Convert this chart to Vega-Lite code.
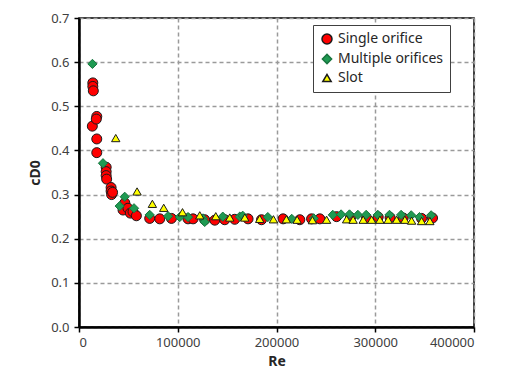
{
  "$schema": "https://vega.github.io/schema/vega-lite/v6.json",
  "width": 395,
  "height": 309,
  "autosize": {"type": "none"},
  "padding": {"left": 79, "top": 18, "right": 34, "bottom": 49},
  "background": "white",
  "config": {
    "font": "Noto Sans",
    "view": {"stroke": "#000000", "strokeWidth": 1.5},
    "axis": {
      "labelFont": "Noto Sans",
      "labelFontSize": 13,
      "labelColor": "#404040",
      "titleFont": "Noto Sans",
      "titleFontSize": 14,
      "titleFontWeight": "bold",
      "titleColor": "#262626",
      "domainColor": "#000000",
      "domainWidth": 2.5,
      "tickColor": "#000000",
      "tickWidth": 1.5,
      "tickSize": 5,
      "gridColor": "#9a9a9a",
      "gridDash": [4, 3],
      "gridWidth": 1.5
    }
  },
  "data": {
    "values": [
      {"Re": 14000, "cd": 0.553, "series": "Single orifice"},
      {"Re": 14000, "cd": 0.545, "series": "Single orifice"},
      {"Re": 14500, "cd": 0.535, "series": "Single orifice"},
      {"Re": 13500, "cd": 0.455, "series": "Single orifice"},
      {"Re": 18000, "cd": 0.477, "series": "Single orifice"},
      {"Re": 17500, "cd": 0.471, "series": "Single orifice"},
      {"Re": 18000, "cd": 0.426, "series": "Single orifice"},
      {"Re": 18000, "cd": 0.395, "series": "Single orifice"},
      {"Re": 27500, "cd": 0.362, "series": "Single orifice"},
      {"Re": 27500, "cd": 0.352, "series": "Single orifice"},
      {"Re": 27500, "cd": 0.343, "series": "Single orifice"},
      {"Re": 28000, "cd": 0.335, "series": "Single orifice"},
      {"Re": 32500, "cd": 0.316, "series": "Single orifice"},
      {"Re": 32500, "cd": 0.308, "series": "Single orifice"},
      {"Re": 33000, "cd": 0.300, "series": "Single orifice"},
      {"Re": 34000, "cd": 0.305, "series": "Single orifice"},
      {"Re": 44600, "cd": 0.265, "series": "Single orifice"},
      {"Re": 46400, "cd": 0.281, "series": "Single orifice"},
      {"Re": 49600, "cd": 0.269, "series": "Single orifice"},
      {"Re": 52000, "cd": 0.258, "series": "Single orifice"},
      {"Re": 54700, "cd": 0.261, "series": "Single orifice"},
      {"Re": 58100, "cd": 0.252, "series": "Single orifice"},
      {"Re": 71600, "cd": 0.246, "series": "Single orifice"},
      {"Re": 81800, "cd": 0.245, "series": "Single orifice"},
      {"Re": 93600, "cd": 0.246, "series": "Single orifice"},
      {"Re": 110400, "cd": 0.245, "series": "Single orifice"},
      {"Re": 115500, "cd": 0.245, "series": "Single orifice"},
      {"Re": 127300, "cd": 0.243, "series": "Single orifice"},
      {"Re": 137500, "cd": 0.242, "series": "Single orifice"},
      {"Re": 147600, "cd": 0.243, "series": "Single orifice"},
      {"Re": 157700, "cd": 0.244, "series": "Single orifice"},
      {"Re": 171200, "cd": 0.245, "series": "Single orifice"},
      {"Re": 184800, "cd": 0.243, "series": "Single orifice"},
      {"Re": 206700, "cd": 0.245, "series": "Single orifice"},
      {"Re": 223600, "cd": 0.243, "series": "Single orifice"},
      {"Re": 235500, "cd": 0.245, "series": "Single orifice"},
      {"Re": 243900, "cd": 0.245, "series": "Single orifice"},
      {"Re": 260800, "cd": 0.250, "series": "Single orifice"},
      {"Re": 275000, "cd": 0.248, "series": "Single orifice"},
      {"Re": 291200, "cd": 0.247, "series": "Single orifice"},
      {"Re": 303000, "cd": 0.249, "series": "Single orifice"},
      {"Re": 315000, "cd": 0.248, "series": "Single orifice"},
      {"Re": 328300, "cd": 0.247, "series": "Single orifice"},
      {"Re": 346900, "cd": 0.246, "series": "Single orifice"},
      {"Re": 358000, "cd": 0.247, "series": "Single orifice"},
      {"Re": 13600, "cd": 0.596, "series": "Multiple orifices"},
      {"Re": 24300, "cd": 0.371, "series": "Multiple orifices"},
      {"Re": 41200, "cd": 0.274, "series": "Multiple orifices"},
      {"Re": 46300, "cd": 0.295, "series": "Multiple orifices"},
      {"Re": 55700, "cd": 0.269, "series": "Multiple orifices"},
      {"Re": 71600, "cd": 0.254, "series": "Multiple orifices"},
      {"Re": 90200, "cd": 0.251, "series": "Multiple orifices"},
      {"Re": 102000, "cd": 0.249, "series": "Multiple orifices"},
      {"Re": 110400, "cd": 0.249, "series": "Multiple orifices"},
      {"Re": 125600, "cd": 0.246, "series": "Multiple orifices"},
      {"Re": 127300, "cd": 0.238, "series": "Multiple orifices"},
      {"Re": 145600, "cd": 0.250, "series": "Multiple orifices"},
      {"Re": 162800, "cd": 0.250, "series": "Multiple orifices"},
      {"Re": 165800, "cd": 0.252, "series": "Multiple orifices"},
      {"Re": 191200, "cd": 0.249, "series": "Multiple orifices"},
      {"Re": 215400, "cd": 0.245, "series": "Multiple orifices"},
      {"Re": 237700, "cd": 0.246, "series": "Multiple orifices"},
      {"Re": 257000, "cd": 0.254, "series": "Multiple orifices"},
      {"Re": 265400, "cd": 0.255, "series": "Multiple orifices"},
      {"Re": 273900, "cd": 0.255, "series": "Multiple orifices"},
      {"Re": 282400, "cd": 0.254, "series": "Multiple orifices"},
      {"Re": 290800, "cd": 0.254, "series": "Multiple orifices"},
      {"Re": 302600, "cd": 0.254, "series": "Multiple orifices"},
      {"Re": 314400, "cd": 0.254, "series": "Multiple orifices"},
      {"Re": 326200, "cd": 0.254, "series": "Multiple orifices"},
      {"Re": 336400, "cd": 0.253, "series": "Multiple orifices"},
      {"Re": 344800, "cd": 0.249, "series": "Multiple orifices"},
      {"Re": 356600, "cd": 0.253, "series": "Multiple orifices"},
      {"Re": 37200, "cd": 0.428, "series": "Slot"},
      {"Re": 58800, "cd": 0.307, "series": "Slot"},
      {"Re": 74300, "cd": 0.279, "series": "Slot"},
      {"Re": 85800, "cd": 0.270, "series": "Slot"},
      {"Re": 104800, "cd": 0.260, "series": "Slot"},
      {"Re": 122300, "cd": 0.253, "series": "Slot"},
      {"Re": 138500, "cd": 0.251, "series": "Slot"},
      {"Re": 152700, "cd": 0.248, "series": "Slot"},
      {"Re": 167900, "cd": 0.248, "series": "Slot"},
      {"Re": 183000, "cd": 0.245, "series": "Slot"},
      {"Re": 196900, "cd": 0.244, "series": "Slot"},
      {"Re": 210000, "cd": 0.244, "series": "Slot"},
      {"Re": 220900, "cd": 0.243, "series": "Slot"},
      {"Re": 236400, "cd": 0.242, "series": "Slot"},
      {"Re": 250700, "cd": 0.243, "series": "Slot"},
      {"Re": 271000, "cd": 0.244, "series": "Slot"},
      {"Re": 277600, "cd": 0.243, "series": "Slot"},
      {"Re": 287800, "cd": 0.243, "series": "Slot"},
      {"Re": 296300, "cd": 0.243, "series": "Slot"},
      {"Re": 304700, "cd": 0.243, "series": "Slot"},
      {"Re": 313000, "cd": 0.243, "series": "Slot"},
      {"Re": 321600, "cd": 0.243, "series": "Slot"},
      {"Re": 330000, "cd": 0.243, "series": "Slot"},
      {"Re": 336800, "cd": 0.241, "series": "Slot"},
      {"Re": 346900, "cd": 0.240, "series": "Slot"},
      {"Re": 355300, "cd": 0.240, "series": "Slot"}
    ]
  },
  "mark": {"type": "point", "filled": true, "opacity": 1, "strokeWidth": 1},
  "encoding": {
    "x": {
      "field": "Re",
      "type": "quantitative",
      "title": "Re",
      "scale": {"domain": [0, 400000], "nice": false, "zero": true},
      "axis": {"values": [0, 100000, 200000, 300000, 400000], "format": "d", "titlePadding": 5, "labelPadding": 4}
    },
    "y": {
      "field": "cd",
      "type": "quantitative",
      "title": "cD0",
      "scale": {"domain": [0, 0.7], "nice": false},
      "axis": {"values": [0, 0.1, 0.2, 0.3, 0.4, 0.5, 0.6, 0.7], "format": ".1f", "titlePadding": 8, "labelPadding": 5}
    },
    "shape": {
      "field": "series",
      "type": "nominal",
      "scale": {"domain": ["Single orifice", "Multiple orifices", "Slot"], "range": ["circle", "diamond", "triangle-up"]},
      "legend": {
        "title": null,
        "orient": "none",
        "legendX": 234,
        "legendY": 7,
        "fillColor": "white",
        "strokeColor": "#404040",
        "padding": 7,
        "labelFont": "Noto Sans",
        "labelFontSize": 14,
        "labelColor": "#262626",
        "rowPadding": 4,
        "symbolSize": 80
      }
    },
    "color": {
      "field": "series",
      "type": "nominal",
      "scale": {"domain": ["Single orifice", "Multiple orifices", "Slot"], "range": ["#ff0000", "#1f9a52", "#ffff00"]}
    },
    "stroke": {
      "field": "series",
      "type": "nominal",
      "scale": {"domain": ["Single orifice", "Multiple orifices", "Slot"], "range": ["#1a1a1a", "#17753e", "#1a1a1a"]}
    },
    "size": {
      "field": "series",
      "type": "nominal",
      "scale": {"domain": ["Single orifice", "Multiple orifices", "Slot"], "range": [100, 70, 95]}
    }
  }
}
